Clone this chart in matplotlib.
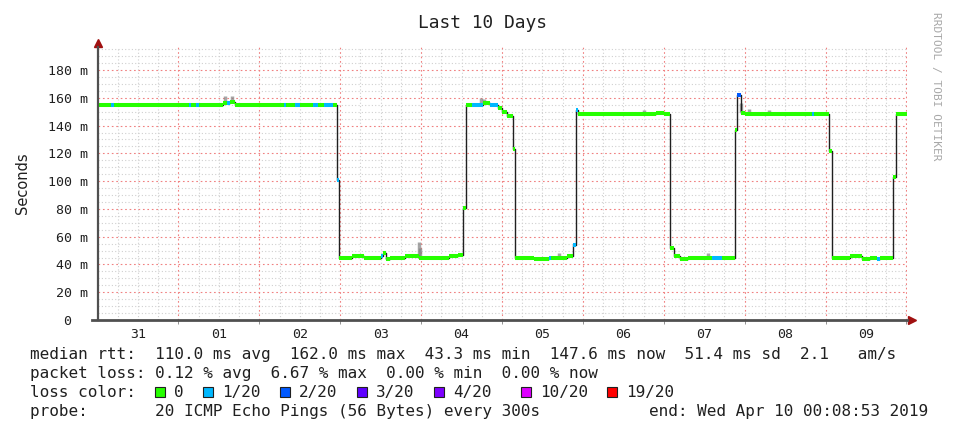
import matplotlib
matplotlib.use("Agg")
import matplotlib.pyplot as plt
from matplotlib.patches import Rectangle

MONO = "DejaVu Sans Mono"

# x = days since Mar 31 00:00; graph covers 10 days ending Apr 10 00:08:53
t_start = 0.0062
t_end = 10.0062

day_labels = ["31", "01", "02", "03", "04", "05", "06", "07", "08", "09"]
y_ticks = [0, 20, 40, 60, 80, 100, 120, 140, 160, 180]
y_labels = ["0  ", "20 m", "40 m", "60 m", "80 m", "100 m", "120 m", "140 m", "160 m", "180 m"]

# median rtt (ms), step changes, with loss (x/20) for colouring
rtt_t = [0.006, 0.17, 0.20, 1.13, 1.16, 1.22, 1.25, 1.55, 1.60, 1.64, 1.70,
         2.30, 2.33, 2.44, 2.50, 2.66, 2.72, 2.80, 2.91, 2.96, 2.99,
         3.15, 3.30, 3.50, 3.53, 3.56, 3.62, 3.80, 3.97, 4.10, 4.35, 4.45,
         4.518, 4.555, 4.63, 4.77, 4.85, 4.95, 5.00, 5.062, 5.136, 5.16,
         5.40, 5.58, 5.61, 5.80, 5.877, 5.915, 5.939, 6.90, 7.00,
         7.077, 7.126, 7.20, 7.30, 7.595, 7.719, 7.880, 7.905, 7.954, 8.00,
         8.83, 8.86, 9.042, 9.079, 9.30, 9.45, 9.55, 9.64, 9.67, 9.833, 9.870]
rtt_ms = [155, 155, 155, 155, 155, 155, 155, 156, 156, 157, 155,
          155, 155, 155, 155, 155, 155, 155, 155, 101, 45,
          46, 45, 46, 48, 44, 45, 46, 45, 45, 46, 47,
          81, 155, 155, 156, 155, 153, 150, 147, 123, 45,
          44, 45, 45, 46, 54, 151, 148, 149, 148,
          52, 46, 44, 45, 44.5, 45, 137, 162, 149, 148,
          148, 148, 122, 45, 46, 44, 45, 44, 45, 103, 148]
rtt_loss = [0, 1, 0, 1, 0, 1, 0, 0, 1, 0, 0,
            1, 0, 1, 0, 1, 0, 1, 0, 1, 0,
            0, 0, 1, 0, 0, 0, 0, 0, 0, 0, 0,
            0, 0, 1, 0, 1, 0, 0, 0, 0, 0,
            0, 1, 0, 0, 1, 1, 0, 0, 0,
            0, 0, 0, 0, 1, 0, 0, 2, 0, 0,
            1, 0, 0, 0, 0, 0, 0, 1, 0, 0, 0]

# smoke (spread of pings) spikes
smoke_t = [1.58, 1.66, 3.97, 3.99, 4.74, 4.78, 5.70, 6.75, 7.55, 7.95, 8.05, 8.30]
smoke_lo = [156, 156, 45, 45, 156, 156, 45, 148, 45, 150, 148, 148]
smoke_hi = [161, 161, 56, 52, 160, 159, 48, 151, 48, 156, 152, 151]

loss_levels = ["0", "1/20", "2/20", "3/20", "4/20", "10/20", "19/20"]
loss_colors = ["#26ff00", "#00b8ff", "#0059ff", "#5e00ff", "#7e00ff", "#dd00ff", "#ff0000"]
loss_index = {0: 0, 1: 1, 2: 2, 3: 3, 4: 4, 10: 5, 19: 6}

W, H = 964, 436
fig = plt.figure(figsize=(W / 100, H / 100), dpi=100)
fig.patch.set_facecolor("white")
ax = fig.add_axes([98 / W, 1 - 320 / H, 809 / W, 273 / H])
ax.set_xlim(t_start, t_end)
ax.set_ylim(0, 196.6)

# grid
for d in range(1, 11):
    ax.axvline(d, color="#f08080", lw=0.8, ls=(0, (1.5, 2.5)), zorder=1)
for q in range(0, 41):
    if q % 4:
        ax.axvline(q / 4, color="#d0d0d0", lw=0.8, ls=(0, (1, 2)), zorder=0)
for y in range(5, 200, 5):
    if y % 20 == 0:
        ax.axhline(y, color="#f08080", lw=0.8, ls=(0, (1.5, 2.5)), zorder=1)
    else:
        ax.axhline(y, color="#d0d0d0", lw=0.8, ls=(0, (1, 2)), zorder=0)

# smoke
ax.vlines(smoke_t, smoke_lo, smoke_hi, color="#808080", lw=2.5, alpha=0.7, zorder=2)

# median line
ax.plot(rtt_t + [t_end], rtt_ms + [rtt_ms[-1]], drawstyle="steps-post",
        color="#202020", lw=1.0, zorder=3)
ends = rtt_t[1:] + [t_end]
for t0, t1, v, l in zip(rtt_t, ends, rtt_ms, rtt_loss):
    ax.hlines(v, t0, t1, color=loss_colors[loss_index[l]], lw=2.9, zorder=4)

# axes and arrows
for s in ax.spines.values():
    s.set_visible(False)
ax.plot([0, 0], [0, 1.0], transform=ax.transAxes, color="#505050", lw=1.6, clip_on=False, zorder=5)
ax.plot([-6 / 809, 1.0], [0, 0], transform=ax.transAxes, color="#505050", lw=2.0, clip_on=False, zorder=5)
ax.plot([0], [1.0 + 4 / 273], marker="^", ms=6, color="#a01010", transform=ax.transAxes, clip_on=False)
ax.plot([1.0 + 5 / 809], [0], marker=">", ms=6, color="#a01010", transform=ax.transAxes, clip_on=False)

ax.set_xticks([d + 0.5 for d in range(10)])
ax.set_xticklabels(day_labels, family=MONO, fontsize=9.5, color="#202020")
ax.set_xticks(list(range(1, 11)), minor=True)
ax.tick_params(axis="x", which="major", length=0, pad=6)
ax.tick_params(axis="x", which="minor", length=3, color="#808080", direction="out")
ax.set_yticks(y_ticks)
ax.set_yticklabels(y_labels, family=MONO, fontsize=9.5, color="#202020")
ax.tick_params(axis="y", length=0, pad=7)

fig.text(483 / W, 1 - 23 / H, "Last 10 Days", family=MONO, fontsize=12.9,
         ha="center", va="center", color="#202020")
fig.text(22 / W, 1 - 183 / H, "Seconds", family="DejaVu Sans", fontsize=10.5,
         rotation=90, ha="center", va="center", color="#202020")
fig.text(936 / W, 1 - 86 / H, "RRDTOOL / TOBI OETIKER", family=MONO, fontsize=8,
         rotation=-90, ha="center", va="center", color="#a8a8a8")

# legend block
cw = 9.62
fs = 11.5
x0 = 30
lines = [
    (355, "median rtt:  110.0 ms avg  162.0 ms max  43.3 ms min  147.6 ms now  51.4 ms sd  2.1   am/s"),
    (373, "packet loss: 0.12 % avg  6.67 % max  0.00 % min  0.00 % now"),
    (392, "loss color:"),
    (411, "probe:       20 ICMP Echo Pings (56 Bytes) every 300s"),
]
for y, s in lines:
    fig.text(x0 / W, 1 - y / H, s, family=MONO, fontsize=fs, ha="left", va="center", color="#202020")
fig.text(928 / W, 1 - 411 / H, "end: Wed Apr 10 00:08:53 2019", family=MONO, fontsize=fs,
         ha="right", va="center", color="#202020")

box_cols = [13, 18, 26, 34, 42, 51, 60]
for col, lab, c in zip(box_cols, loss_levels, loss_colors):
    bx = x0 + col * cw
    fig.patches.append(Rectangle(((bx) / W, 1 - (392 + 5) / H), 10 / W, 10 / H,
                                 transform=fig.transFigure, facecolor=c,
                                 edgecolor="#202020", lw=0.8))
    fig.text((x0 + (col + 2) * cw) / W, 1 - 392 / H, lab, family=MONO, fontsize=fs,
             ha="left", va="center", color="#202020")

fig.savefig("out.png", dpi=100, facecolor="white")
